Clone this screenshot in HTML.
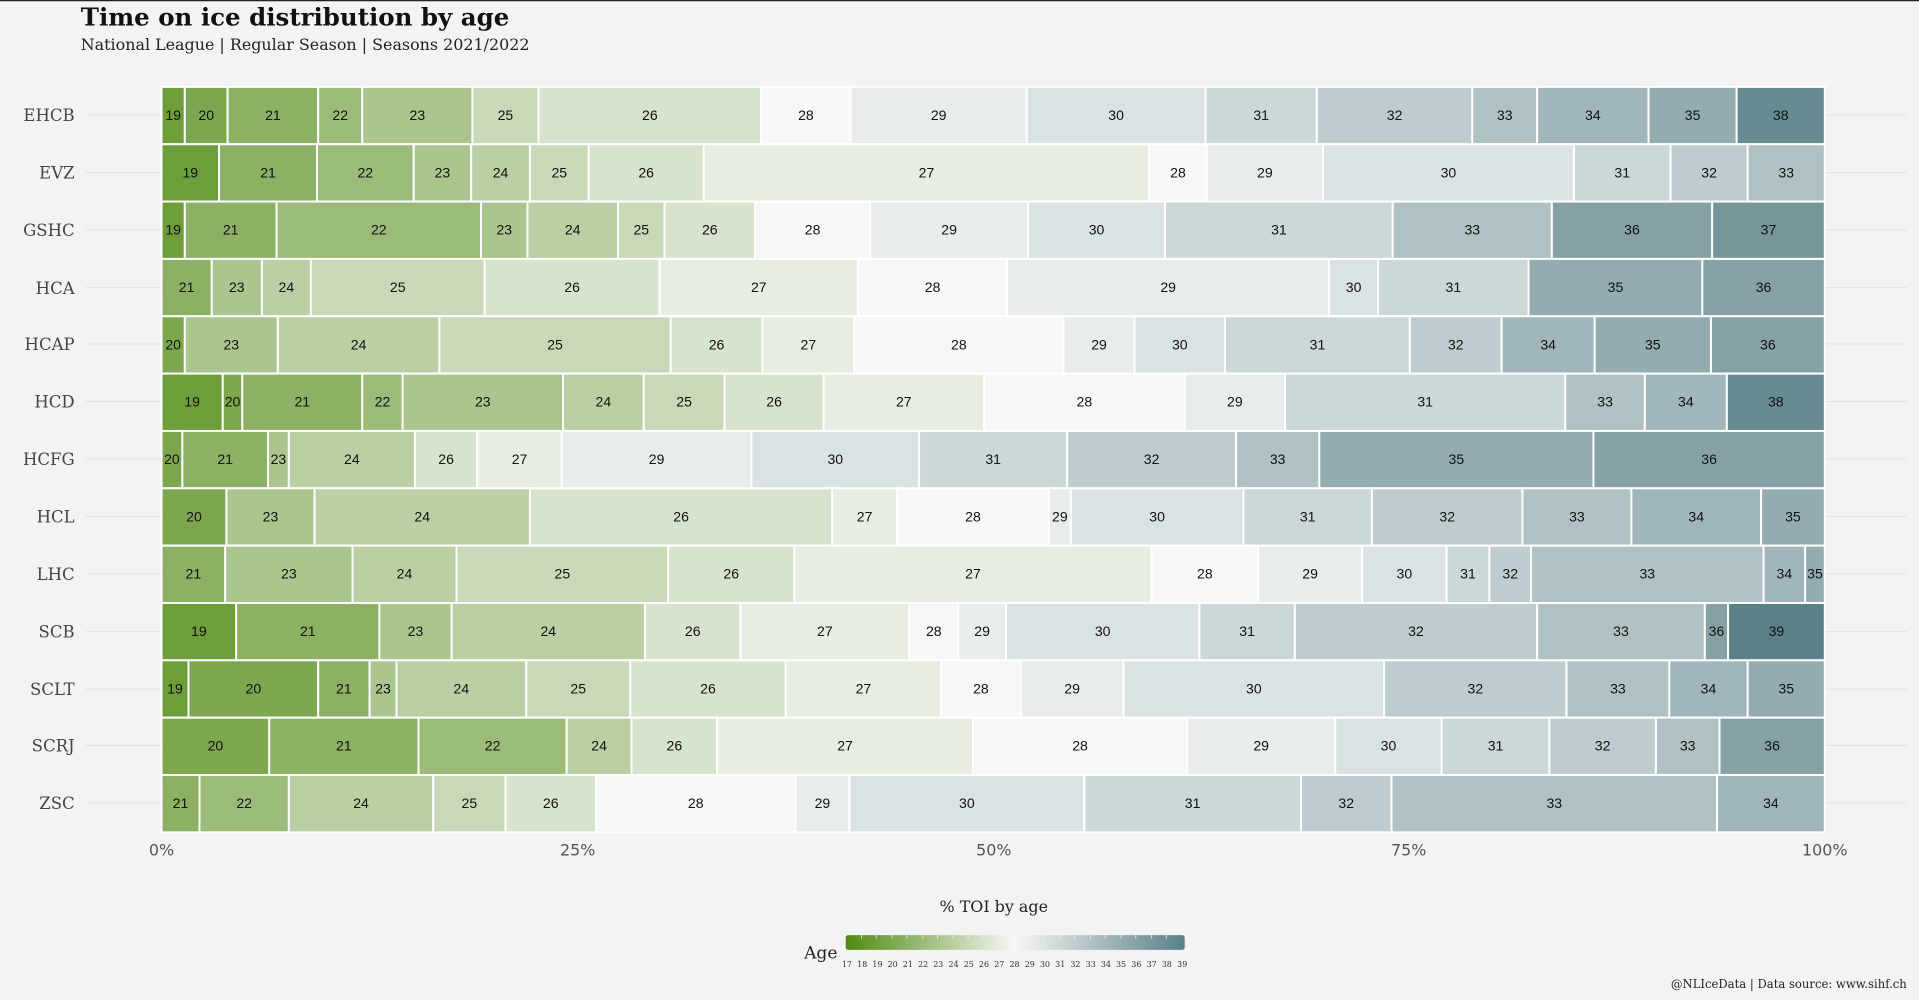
<!DOCTYPE html>
<html><head><meta charset="utf-8"><style>
html,body{margin:0;padding:0;background:#f3f3f3;}
svg{display:block}
.s text{font-family:"Liberation Sans",sans-serif;font-size:11.5px;text-anchor:middle;fill:#111}
.y{font-family:"DejaVu Serif","Liberation Serif",serif;font-size:13.5px;fill:#444;text-anchor:end}
.xt{font-family:"DejaVu Sans","Liberation Sans",sans-serif;font-size:13px;fill:#555;text-anchor:middle}
.lg{font-family:"DejaVu Serif","Liberation Serif",serif;font-size:6.5px;fill:#333;text-anchor:middle}
.s rect{stroke:#fff;stroke-width:1.6}
</style></head><body>
<svg width="1919" height="1000" viewBox="0 0 1568 817" preserveAspectRatio="none" xmlns="http://www.w3.org/2000/svg">
<defs>
<linearGradient id="lgr" x1="0" x2="1" y1="0" y2="0">
<stop offset="0" stop-color="#4f8a10"/><stop offset="0.5" stop-color="#f7f7f7"/><stop offset="1" stop-color="#5a8088"/>
</linearGradient>
</defs>
<rect width="1568" height="817" fill="#f3f3f3"/>
<line x1="0" y1="0.5" x2="1568" y2="0.5" stroke="#222" stroke-width="1"/>
<text x="66" y="21" font-family="DejaVu Serif,Liberation Serif,serif" font-weight="bold" font-size="20" fill="#111">Time on ice distribution by age</text>
<text x="66" y="41" font-family="DejaVu Serif,Liberation Serif,serif" font-size="13" fill="#222">National League | Regular Season | Seasons 2021/2022</text>
<g stroke="#e4e4e4" stroke-width="1">
<line x1="70" x2="1558" y1="94" y2="94"/><line x1="70" x2="1558" y1="141" y2="141"/><line x1="70" x2="1558" y1="188" y2="188"/><line x1="70" x2="1558" y1="235" y2="235"/><line x1="70" x2="1558" y1="281" y2="281"/><line x1="70" x2="1558" y1="328" y2="328"/><line x1="70" x2="1558" y1="375" y2="375"/><line x1="70" x2="1558" y1="422" y2="422"/><line x1="70" x2="1558" y1="469" y2="469"/><line x1="70" x2="1558" y1="516" y2="516"/><line x1="70" x2="1558" y1="563" y2="563"/><line x1="70" x2="1558" y1="609" y2="609"/><line x1="70" x2="1558" y1="656" y2="656"/>
</g>
<g class="y">
<text x="61" y="99">EHCB</text><text x="61" y="146">EVZ</text><text x="61" y="193">GSHC</text><text x="61" y="240">HCA</text><text x="61" y="286">HCAP</text><text x="61" y="333">HCD</text><text x="61" y="380">HCFG</text><text x="61" y="427">HCL</text><text x="61" y="474">LHC</text><text x="61" y="521">SCB</text><text x="61" y="568">SCLT</text><text x="61" y="614">SCRJ</text><text x="61" y="661">ZSC</text>
</g>
<g class="s">
<g transform="translate(0,71)">
<rect x="132" width="19" height="46.8" fill="#6e9e3a"/><rect x="151" width="35" height="46.8" fill="#7da74f"/><rect x="186" width="74" height="46.8" fill="#8cb164"/><rect x="260" width="36" height="46.8" fill="#9bbb79"/><rect x="296" width="90" height="46.8" fill="#abc58e"/><rect x="386" width="54" height="46.8" fill="#c9d9b8"/><rect x="440" width="182" height="46.8" fill="#d8e3cd"/><rect x="622" width="73" height="46.8" fill="#f7f7f7"/><rect x="695" width="144" height="46.8" fill="#e9eced"/><rect x="839" width="146" height="46.8" fill="#dae2e3"/><rect x="985" width="91" height="46.8" fill="#ccd7d9"/><rect x="1076" width="127" height="46.8" fill="#becccf"/><rect x="1203" width="53" height="46.8" fill="#b0c1c4"/><rect x="1256" width="91" height="46.8" fill="#a1b6ba"/><rect x="1347" width="72" height="46.8" fill="#93acb0"/><rect x="1419" width="72" height="46.8" fill="#688b92"/>
<text x="141.5" y="27">19</text><text x="168.5" y="27">20</text><text x="223" y="27">21</text><text x="278" y="27">22</text><text x="341" y="27">23</text><text x="413" y="27">25</text><text x="531" y="27">26</text><text x="658.5" y="27">28</text><text x="767" y="27">29</text><text x="912" y="27">30</text><text x="1030.5" y="27">31</text><text x="1139.5" y="27">32</text><text x="1229.5" y="27">33</text><text x="1301.5" y="27">34</text><text x="1383" y="27">35</text><text x="1455" y="27">38</text>
</g>
<g transform="translate(0,117.85)">
<rect x="132" width="47" height="46.8" fill="#6e9e3a"/><rect x="179" width="80" height="46.8" fill="#8cb164"/><rect x="259" width="79" height="46.8" fill="#9bbb79"/><rect x="338" width="47" height="46.8" fill="#abc58e"/><rect x="385" width="48" height="46.8" fill="#bacfa3"/><rect x="433" width="48" height="46.8" fill="#c9d9b8"/><rect x="481" width="94" height="46.8" fill="#d8e3cd"/><rect x="575" width="364" height="46.8" fill="#e8ede2"/><rect x="939" width="47" height="46.8" fill="#f7f7f7"/><rect x="986" width="95" height="46.8" fill="#e9eced"/><rect x="1081" width="205" height="46.8" fill="#dae2e3"/><rect x="1286" width="79" height="46.8" fill="#ccd7d9"/><rect x="1365" width="63" height="46.8" fill="#becccf"/><rect x="1428" width="63" height="46.8" fill="#b0c1c4"/>
<text x="155.5" y="27">19</text><text x="219" y="27">21</text><text x="298.5" y="27">22</text><text x="361.5" y="27">23</text><text x="409" y="27">24</text><text x="457" y="27">25</text><text x="528" y="27">26</text><text x="757" y="27">27</text><text x="962.5" y="27">28</text><text x="1033.5" y="27">29</text><text x="1183.5" y="27">30</text><text x="1325.5" y="27">31</text><text x="1396.5" y="27">32</text><text x="1459.5" y="27">33</text>
</g>
<g transform="translate(0,164.7)">
<rect x="132" width="19" height="46.8" fill="#6e9e3a"/><rect x="151" width="75" height="46.8" fill="#8cb164"/><rect x="226" width="167" height="46.8" fill="#9bbb79"/><rect x="393" width="38" height="46.8" fill="#abc58e"/><rect x="431" width="74" height="46.8" fill="#bacfa3"/><rect x="505" width="38" height="46.8" fill="#c9d9b8"/><rect x="543" width="74" height="46.8" fill="#d8e3cd"/><rect x="617" width="94" height="46.8" fill="#f7f7f7"/><rect x="711" width="129" height="46.8" fill="#e9eced"/><rect x="840" width="112" height="46.8" fill="#dae2e3"/><rect x="952" width="186" height="46.8" fill="#ccd7d9"/><rect x="1138" width="130" height="46.8" fill="#b0c1c4"/><rect x="1268" width="131" height="46.8" fill="#85a1a6"/><rect x="1399" width="92" height="46.8" fill="#77969c"/>
<text x="141.5" y="27">19</text><text x="188.5" y="27">21</text><text x="309.5" y="27">22</text><text x="412" y="27">23</text><text x="468" y="27">24</text><text x="524" y="27">25</text><text x="580" y="27">26</text><text x="664" y="27">28</text><text x="775.5" y="27">29</text><text x="896" y="27">30</text><text x="1045" y="27">31</text><text x="1203" y="27">33</text><text x="1333.5" y="27">36</text><text x="1445" y="27">37</text>
</g>
<g transform="translate(0,211.55)">
<rect x="132" width="41" height="46.8" fill="#8cb164"/><rect x="173" width="41" height="46.8" fill="#abc58e"/><rect x="214" width="40" height="46.8" fill="#bacfa3"/><rect x="254" width="142" height="46.8" fill="#c9d9b8"/><rect x="396" width="143" height="46.8" fill="#d8e3cd"/><rect x="539" width="162" height="46.8" fill="#e8ede2"/><rect x="701" width="122" height="46.8" fill="#f7f7f7"/><rect x="823" width="263" height="46.8" fill="#e9eced"/><rect x="1086" width="40" height="46.8" fill="#dae2e3"/><rect x="1126" width="123" height="46.8" fill="#ccd7d9"/><rect x="1249" width="142" height="46.8" fill="#93acb0"/><rect x="1391" width="100" height="46.8" fill="#85a1a6"/>
<text x="152.5" y="27">21</text><text x="193.5" y="27">23</text><text x="234" y="27">24</text><text x="325" y="27">25</text><text x="467.5" y="27">26</text><text x="620" y="27">27</text><text x="762" y="27">28</text><text x="954.5" y="27">29</text><text x="1106" y="27">30</text><text x="1187.5" y="27">31</text><text x="1320" y="27">35</text><text x="1441" y="27">36</text>
</g>
<g transform="translate(0,258.4)">
<rect x="132" width="19" height="46.8" fill="#7da74f"/><rect x="151" width="76" height="46.8" fill="#abc58e"/><rect x="227" width="132" height="46.8" fill="#bacfa3"/><rect x="359" width="189" height="46.8" fill="#c9d9b8"/><rect x="548" width="75" height="46.8" fill="#d8e3cd"/><rect x="623" width="75" height="46.8" fill="#e8ede2"/><rect x="698" width="171" height="46.8" fill="#f7f7f7"/><rect x="869" width="58" height="46.8" fill="#e9eced"/><rect x="927" width="74" height="46.8" fill="#dae2e3"/><rect x="1001" width="151" height="46.8" fill="#ccd7d9"/><rect x="1152" width="75" height="46.8" fill="#becccf"/><rect x="1227" width="76" height="46.8" fill="#a1b6ba"/><rect x="1303" width="95" height="46.8" fill="#93acb0"/><rect x="1398" width="93" height="46.8" fill="#85a1a6"/>
<text x="141.5" y="27">20</text><text x="189" y="27">23</text><text x="293" y="27">24</text><text x="453.5" y="27">25</text><text x="585.5" y="27">26</text><text x="660.5" y="27">27</text><text x="783.5" y="27">28</text><text x="898" y="27">29</text><text x="964" y="27">30</text><text x="1076.5" y="27">31</text><text x="1189.5" y="27">32</text><text x="1265" y="27">34</text><text x="1350.5" y="27">35</text><text x="1444.5" y="27">36</text>
</g>
<g transform="translate(0,305.25)">
<rect x="132" width="50" height="46.8" fill="#6e9e3a"/><rect x="182" width="16" height="46.8" fill="#7da74f"/><rect x="198" width="98" height="46.8" fill="#8cb164"/><rect x="296" width="33" height="46.8" fill="#9bbb79"/><rect x="329" width="131" height="46.8" fill="#abc58e"/><rect x="460" width="66" height="46.8" fill="#bacfa3"/><rect x="526" width="66" height="46.8" fill="#c9d9b8"/><rect x="592" width="81" height="46.8" fill="#d8e3cd"/><rect x="673" width="131" height="46.8" fill="#e8ede2"/><rect x="804" width="164" height="46.8" fill="#f7f7f7"/><rect x="968" width="82" height="46.8" fill="#e9eced"/><rect x="1050" width="229" height="46.8" fill="#ccd7d9"/><rect x="1279" width="65" height="46.8" fill="#b0c1c4"/><rect x="1344" width="67" height="46.8" fill="#a1b6ba"/><rect x="1411" width="80" height="46.8" fill="#688b92"/>
<text x="157" y="27">19</text><text x="190" y="27">20</text><text x="247" y="27">21</text><text x="312.5" y="27">22</text><text x="394.5" y="27">23</text><text x="493" y="27">24</text><text x="559" y="27">25</text><text x="632.5" y="27">26</text><text x="738.5" y="27">27</text><text x="886" y="27">28</text><text x="1009" y="27">29</text><text x="1164.5" y="27">31</text><text x="1311.5" y="27">33</text><text x="1377.5" y="27">34</text><text x="1451" y="27">38</text>
</g>
<g transform="translate(0,352.1)">
<rect x="132" width="17" height="46.8" fill="#7da74f"/><rect x="149" width="70" height="46.8" fill="#8cb164"/><rect x="219" width="17" height="46.8" fill="#abc58e"/><rect x="236" width="103" height="46.8" fill="#bacfa3"/><rect x="339" width="51" height="46.8" fill="#d8e3cd"/><rect x="390" width="69" height="46.8" fill="#e8ede2"/><rect x="459" width="155" height="46.8" fill="#e9eced"/><rect x="614" width="137" height="46.8" fill="#dae2e3"/><rect x="751" width="121" height="46.8" fill="#ccd7d9"/><rect x="872" width="138" height="46.8" fill="#becccf"/><rect x="1010" width="68" height="46.8" fill="#b0c1c4"/><rect x="1078" width="224" height="46.8" fill="#93acb0"/><rect x="1302" width="189" height="46.8" fill="#85a1a6"/>
<text x="140.5" y="27">20</text><text x="184" y="27">21</text><text x="227.5" y="27">23</text><text x="287.5" y="27">24</text><text x="364.5" y="27">26</text><text x="424.5" y="27">27</text><text x="536.5" y="27">29</text><text x="682.5" y="27">30</text><text x="811.5" y="27">31</text><text x="941" y="27">32</text><text x="1044" y="27">33</text><text x="1190" y="27">35</text><text x="1396.5" y="27">36</text>
</g>
<g transform="translate(0,398.95)">
<rect x="132" width="53" height="46.8" fill="#7da74f"/><rect x="185" width="72" height="46.8" fill="#abc58e"/><rect x="257" width="176" height="46.8" fill="#bacfa3"/><rect x="433" width="247" height="46.8" fill="#d8e3cd"/><rect x="680" width="53" height="46.8" fill="#e8ede2"/><rect x="733" width="124" height="46.8" fill="#f7f7f7"/><rect x="857" width="18" height="46.8" fill="#e9eced"/><rect x="875" width="141" height="46.8" fill="#dae2e3"/><rect x="1016" width="105" height="46.8" fill="#ccd7d9"/><rect x="1121" width="123" height="46.8" fill="#becccf"/><rect x="1244" width="89" height="46.8" fill="#b0c1c4"/><rect x="1333" width="106" height="46.8" fill="#a1b6ba"/><rect x="1439" width="52" height="46.8" fill="#93acb0"/>
<text x="158.5" y="27">20</text><text x="221" y="27">23</text><text x="345" y="27">24</text><text x="556.5" y="27">26</text><text x="706.5" y="27">27</text><text x="795" y="27">28</text><text x="866" y="27">29</text><text x="945.5" y="27">30</text><text x="1068.5" y="27">31</text><text x="1182.5" y="27">32</text><text x="1288.5" y="27">33</text><text x="1386" y="27">34</text><text x="1465" y="27">35</text>
</g>
<g transform="translate(0,445.8)">
<rect x="132" width="52" height="46.8" fill="#8cb164"/><rect x="184" width="104" height="46.8" fill="#abc58e"/><rect x="288" width="85" height="46.8" fill="#bacfa3"/><rect x="373" width="173" height="46.8" fill="#c9d9b8"/><rect x="546" width="103" height="46.8" fill="#d8e3cd"/><rect x="649" width="292" height="46.8" fill="#e8ede2"/><rect x="941" width="87" height="46.8" fill="#f7f7f7"/><rect x="1028" width="85" height="46.8" fill="#e9eced"/><rect x="1113" width="69" height="46.8" fill="#dae2e3"/><rect x="1182" width="35" height="46.8" fill="#ccd7d9"/><rect x="1217" width="34" height="46.8" fill="#becccf"/><rect x="1251" width="190" height="46.8" fill="#b0c1c4"/><rect x="1441" width="34" height="46.8" fill="#a1b6ba"/><rect x="1475" width="16" height="46.8" fill="#93acb0"/>
<text x="158" y="27">21</text><text x="236" y="27">23</text><text x="330.5" y="27">24</text><text x="459.5" y="27">25</text><text x="597.5" y="27">26</text><text x="795" y="27">27</text><text x="984.5" y="27">28</text><text x="1070.5" y="27">29</text><text x="1147.5" y="27">30</text><text x="1199.5" y="27">31</text><text x="1234" y="27">32</text><text x="1346" y="27">33</text><text x="1458" y="27">34</text><text x="1483" y="27">35</text>
</g>
<g transform="translate(0,492.65)">
<rect x="132" width="61" height="46.8" fill="#6e9e3a"/><rect x="193" width="117" height="46.8" fill="#8cb164"/><rect x="310" width="59" height="46.8" fill="#abc58e"/><rect x="369" width="158" height="46.8" fill="#bacfa3"/><rect x="527" width="78" height="46.8" fill="#d8e3cd"/><rect x="605" width="138" height="46.8" fill="#e8ede2"/><rect x="743" width="40" height="46.8" fill="#f7f7f7"/><rect x="783" width="39" height="46.8" fill="#e9eced"/><rect x="822" width="158" height="46.8" fill="#dae2e3"/><rect x="980" width="78" height="46.8" fill="#ccd7d9"/><rect x="1058" width="198" height="46.8" fill="#becccf"/><rect x="1256" width="137" height="46.8" fill="#b0c1c4"/><rect x="1393" width="19" height="46.8" fill="#85a1a6"/><rect x="1412" width="79" height="46.8" fill="#5a8088"/>
<text x="162.5" y="27">19</text><text x="251.5" y="27">21</text><text x="339.5" y="27">23</text><text x="448" y="27">24</text><text x="566" y="27">26</text><text x="674" y="27">27</text><text x="763" y="27">28</text><text x="802.5" y="27">29</text><text x="901" y="27">30</text><text x="1019" y="27">31</text><text x="1157" y="27">32</text><text x="1324.5" y="27">33</text><text x="1402.5" y="27">36</text><text x="1451.5" y="27">39</text>
</g>
<g transform="translate(0,539.5)">
<rect x="132" width="22" height="46.8" fill="#6e9e3a"/><rect x="154" width="106" height="46.8" fill="#7da74f"/><rect x="260" width="42" height="46.8" fill="#8cb164"/><rect x="302" width="22" height="46.8" fill="#abc58e"/><rect x="324" width="106" height="46.8" fill="#bacfa3"/><rect x="430" width="85" height="46.8" fill="#c9d9b8"/><rect x="515" width="127" height="46.8" fill="#d8e3cd"/><rect x="642" width="127" height="46.8" fill="#e8ede2"/><rect x="769" width="65" height="46.8" fill="#f7f7f7"/><rect x="834" width="84" height="46.8" fill="#e9eced"/><rect x="918" width="213" height="46.8" fill="#dae2e3"/><rect x="1131" width="149" height="46.8" fill="#becccf"/><rect x="1280" width="84" height="46.8" fill="#b0c1c4"/><rect x="1364" width="64" height="46.8" fill="#a1b6ba"/><rect x="1428" width="63" height="46.8" fill="#93acb0"/>
<text x="143" y="27">19</text><text x="207" y="27">20</text><text x="281" y="27">21</text><text x="313" y="27">23</text><text x="377" y="27">24</text><text x="472.5" y="27">25</text><text x="578.5" y="27">26</text><text x="705.5" y="27">27</text><text x="801.5" y="27">28</text><text x="876" y="27">29</text><text x="1024.5" y="27">30</text><text x="1205.5" y="27">32</text><text x="1322" y="27">33</text><text x="1396" y="27">34</text><text x="1459.5" y="27">35</text>
</g>
<g transform="translate(0,586.35)">
<rect x="132" width="88" height="46.8" fill="#7da74f"/><rect x="220" width="122" height="46.8" fill="#8cb164"/><rect x="342" width="121" height="46.8" fill="#9bbb79"/><rect x="463" width="53" height="46.8" fill="#bacfa3"/><rect x="516" width="70" height="46.8" fill="#d8e3cd"/><rect x="586" width="209" height="46.8" fill="#e8ede2"/><rect x="795" width="175" height="46.8" fill="#f7f7f7"/><rect x="970" width="121" height="46.8" fill="#e9eced"/><rect x="1091" width="87" height="46.8" fill="#dae2e3"/><rect x="1178" width="88" height="46.8" fill="#ccd7d9"/><rect x="1266" width="87" height="46.8" fill="#becccf"/><rect x="1353" width="52" height="46.8" fill="#b0c1c4"/><rect x="1405" width="86" height="46.8" fill="#85a1a6"/>
<text x="176" y="27">20</text><text x="281" y="27">21</text><text x="402.5" y="27">22</text><text x="489.5" y="27">24</text><text x="551" y="27">26</text><text x="690.5" y="27">27</text><text x="882.5" y="27">28</text><text x="1030.5" y="27">29</text><text x="1134.5" y="27">30</text><text x="1222" y="27">31</text><text x="1309.5" y="27">32</text><text x="1379" y="27">33</text><text x="1448" y="27">36</text>
</g>
<g transform="translate(0,633.2)">
<rect x="132" width="31" height="46.8" fill="#8cb164"/><rect x="163" width="73" height="46.8" fill="#9bbb79"/><rect x="236" width="118" height="46.8" fill="#bacfa3"/><rect x="354" width="59" height="46.8" fill="#c9d9b8"/><rect x="413" width="74" height="46.8" fill="#d8e3cd"/><rect x="487" width="163" height="46.8" fill="#f7f7f7"/><rect x="650" width="44" height="46.8" fill="#e9eced"/><rect x="694" width="192" height="46.8" fill="#dae2e3"/><rect x="886" width="177" height="46.8" fill="#ccd7d9"/><rect x="1063" width="74" height="46.8" fill="#becccf"/><rect x="1137" width="266" height="46.8" fill="#b0c1c4"/><rect x="1403" width="88" height="46.8" fill="#a1b6ba"/>
<text x="147.5" y="27">21</text><text x="199.5" y="27">22</text><text x="295" y="27">24</text><text x="383.5" y="27">25</text><text x="450" y="27">26</text><text x="568.5" y="27">28</text><text x="672" y="27">29</text><text x="790" y="27">30</text><text x="974.5" y="27">31</text><text x="1100" y="27">32</text><text x="1270" y="27">33</text><text x="1447" y="27">34</text>
</g>
</g>
<text class="xt" x="132" y="699">0%</text><text class="xt" x="472" y="699">25%</text><text class="xt" x="812" y="699">50%</text><text class="xt" x="1151" y="699">75%</text><text class="xt" x="1491" y="699">100%</text>
<text x="812" y="745" font-family="DejaVu Serif,Liberation Serif,serif" font-size="13" fill="#222" text-anchor="middle">% TOI by age</text>
<text x="657" y="783" font-family="DejaVu Serif,Liberation Serif,serif" font-size="14" fill="#222">Age</text>
<rect x="691" y="764" width="277" height="12" fill="url(#lgr)" rx="2"/>
<g stroke="#f3f3f3" stroke-width="0.8" opacity="0.8">
<line x1="704" x2="704" y1="764" y2="767"/><line x1="716" x2="716" y1="764" y2="767"/><line x1="729" x2="729" y1="764" y2="767"/><line x1="741" x2="741" y1="764" y2="767"/><line x1="754" x2="754" y1="764" y2="767"/><line x1="766" x2="766" y1="764" y2="767"/><line x1="779" x2="779" y1="764" y2="767"/><line x1="791" x2="791" y1="764" y2="767"/><line x1="803" x2="803" y1="764" y2="767"/><line x1="816" x2="816" y1="764" y2="767"/><line x1="828" x2="828" y1="764" y2="767"/><line x1="841" x2="841" y1="764" y2="767"/><line x1="853" x2="853" y1="764" y2="767"/><line x1="866" x2="866" y1="764" y2="767"/><line x1="878" x2="878" y1="764" y2="767"/><line x1="891" x2="891" y1="764" y2="767"/><line x1="903" x2="903" y1="764" y2="767"/><line x1="916" x2="916" y1="764" y2="767"/><line x1="928" x2="928" y1="764" y2="767"/><line x1="941" x2="941" y1="764" y2="767"/><line x1="953" x2="953" y1="764" y2="767"/>
</g>
<g class="lg">
<text x="692" y="790">17</text><text x="704.5" y="790">18</text><text x="717" y="790">19</text><text x="729.4" y="790">20</text><text x="741.8" y="790">21</text><text x="754.3" y="790">22</text><text x="766.7" y="790">23</text><text x="779.2" y="790">24</text><text x="791.6" y="790">25</text><text x="804" y="790">26</text><text x="816.5" y="790">27</text><text x="829" y="790">28</text><text x="841.4" y="790">29</text><text x="853.8" y="790">30</text><text x="866.3" y="790">31</text><text x="878.7" y="790">32</text><text x="891.2" y="790">33</text><text x="903.6" y="790">34</text><text x="916" y="790">35</text><text x="928.5" y="790">36</text><text x="941" y="790">37</text><text x="953.4" y="790">38</text><text x="966" y="790">39</text>
</g>
<text x="1558" y="807" font-family="DejaVu Serif,Liberation Serif,serif" font-size="9.5" fill="#222" text-anchor="end">@NLIceData | Data source: www.sihf.ch</text>
</svg>
</body></html>
